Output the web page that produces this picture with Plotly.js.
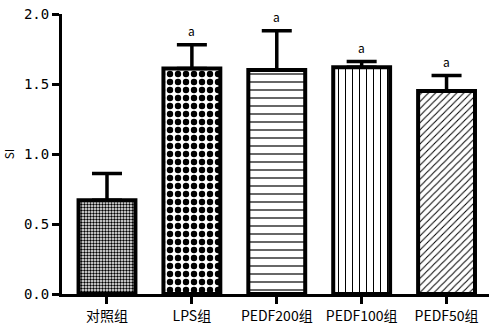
<!DOCTYPE html>
<html><head><meta charset="utf-8">
<script src="https://cdn.plot.ly/plotly-3.0.1.min.js"></script>
<style>html,body{margin:0;padding:0;background:#fff}#chart{width:489px;height:331px}</style>
</head><body><div id="chart"></div>
<script>
const categories = ["对照组", "LPS组", "PEDF200组", "PEDF100组", "PEDF50组"];
const meanValues = [0.67, 1.61, 1.60, 1.62, 1.45];
const errorPlus = [0.19, 0.17, 0.28, 0.04, 0.11];
const sigLabels = ["", "a", "a", "a", "a"];
const patternShapes = [".", ".", "-", "|", "/"];
const patternSizes = [3, 8, 8, 7, 5];
const patternSolidity = [0.5, 0.5, 0.15, 0.15, 0.2];
const yTicks = [0, 0.5, 1.0, 1.5, 2.0];
const yTickText = ["0.0", "0.5", "1.0", "1.5", "2.0"];

const font = "Noto Sans CJK SC, Liberation Sans, sans-serif";
const numFont = "DejaVu Sans Mono, Liberation Mono, monospace";

const trace = {
  type: "bar",
  x: categories,
  y: meanValues,
  width: 0.67,
  marker: {
    color: "#ffffff",
    line: {color: "#000", width: 4},
    pattern: {shape: patternShapes, size: patternSizes, solidity: patternSolidity, fgcolor: "#000", bgcolor: "#fff", fillmode: "replace"}
  },
  error_y: {type: "data", symmetric: false, array: errorPlus, arrayminus: errorPlus.map(() => 0), color: "#000", thickness: 3.5, width: 15},
  hoverinfo: "none"
};

const annotations = categories.map((c, i) => ({
  x: c, y: meanValues[i] + errorPlus[i], text: sigLabels[i], showarrow: false,
  yanchor: "bottom", yshift: 4, font: {family: font, size: 12, color: "#000"}
})).filter(a => a.text);

const layout = {
  width: 489, height: 331,
  margin: {l: 62, r: 0, t: 14, b: 37},
  paper_bgcolor: "#fff", plot_bgcolor: "#fff",
  showlegend: false,
  xaxis: {
    range: [-0.53, 4.5], showgrid: false, zeroline: false,
    showline: true, linecolor: "#000", linewidth: 3,
    ticks: "outside", ticklen: 7, tickwidth: 3, tickcolor: "#000",
    tickfont: {family: font, size: 14, color: "#000"}
  },
  yaxis: {
    range: [0, 2.0], showgrid: false, zeroline: false,
    showline: true, linecolor: "#000", linewidth: 3,
    ticks: "outside", ticklen: 7, tickwidth: 3, tickcolor: "#000",
    tickvals: yTicks, ticktext: yTickText,
    tickfont: {family: numFont, size: 14, color: "#000"},
    title: {text: "SI", font: {family: font, size: 12, color: "#000"}, standoff: 8}
  },
  annotations: annotations
};

Plotly.newPlot("chart", [trace], layout, {staticPlot: true, displayModeBar: false});
</script></body></html>
